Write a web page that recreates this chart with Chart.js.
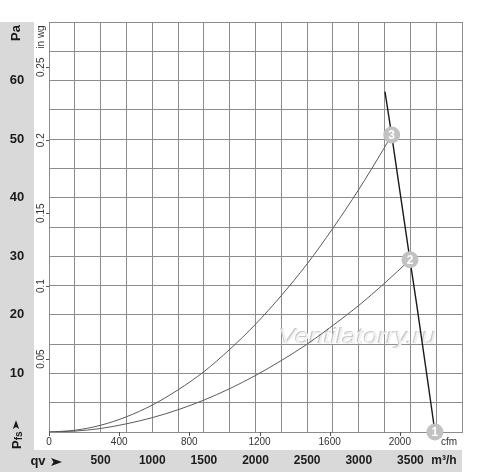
<!DOCTYPE html>
<html>
<head>
<meta charset="utf-8">
<script src="https://cdn.jsdelivr.net/npm/chart.js@4.4.1/dist/chart.umd.min.js"></script>
<style>
  html, body { margin: 0; padding: 0; background: #fff; }
  #wrap { width: 500px; height: 472px; position: relative; }
</style>
</head>
<body>
<div id="wrap"><canvas id="myChart"></canvas></div>
<script>
// Характеристики сети (расход м³/ч -> давление Па)
const flowUpper  = [0, 250, 500, 750, 1000, 1250, 1500, 1750, 2000, 2250, 2500, 2750, 3000, 3250, 3319];
const pressUpper = [0, 0.3, 1.15, 2.6, 4.6, 7.2, 10.3, 14.1, 18.4, 23.3, 28.7, 34.8, 41.4, 48.6, 50.7];
const flowLower  = [0, 250, 500, 750, 1000, 1250, 1500, 1750, 2000, 2250, 2500, 2750, 3000, 3250, 3496];
const pressLower = [0, 0.15, 0.6, 1.4, 2.45, 3.8, 5.45, 7.4, 9.65, 12.2, 15.0, 18.2, 21.6, 25.4, 29.4];

// Кривая вентилятора
const flowFan  = [3254, 3319, 3400, 3496, 3561, 3668, 3738];
const pressFan = [58.1, 50.7, 40.9, 29.4, 21.8, 8.7, 0];

// Рабочие точки
const markerFlow   = [3738, 3496, 3319];
const markerPress  = [0, 29.4, 50.7];
const markerLabels = ['1', '2', '3'];

// Подписи осей
const paTicks   = [10, 20, 30, 40, 50, 60];
const inwgTicks = ['0.05', '0.1', '0.15', '0.2', '0.25'];
const cfmTicks  = [0, 400, 800, 1200, 1600, 2000];
const m3hTicks  = [500, 1000, 1500, 2000, 2500, 3000, 3500];

const PA_PER_INWG = 249.09;
const M3H_PER_CFM = 1.699;
const FONT = '"Liberation Sans", Arial, sans-serif';
const BAND = '#d9d9d9';

function toXY(xs, ys) {
  return xs.map((x, i) => ({ x: x, y: ys[i] }));
}

// Повёрнутый текст (снизу вверх)
function rotText(ctx, text, x, y, font, color) {
  ctx.save();
  ctx.translate(x, y);
  ctx.rotate(-Math.PI / 2);
  ctx.font = font;
  ctx.fillStyle = color;
  ctx.textAlign = 'center';
  ctx.textBaseline = 'middle';
  ctx.fillText(text, 0, 0);
  ctx.restore();
}

// Стрелка ➤ (центр в x,y, направление angle, s - масштаб)
function arrow(ctx, x, y, angle, s) {
  ctx.save();
  ctx.translate(x, y);
  ctx.rotate(angle);
  ctx.scale(s, s);
  ctx.fillStyle = '#1a1a1a';
  ctx.beginPath();
  ctx.moveTo(-5, -4);
  ctx.lineTo(6, 0);
  ctx.lineTo(-5, 4);
  ctx.lineTo(-2.5, 0);
  ctx.closePath();
  ctx.fill();
  ctx.restore();
}

const framePlugin = {
  id: 'frame',
  beforeDraw(chart) {
    const { ctx, chartArea } = chart;
    ctx.save();
    ctx.fillStyle = BAND;
    // левая серая полоса и нижняя
    ctx.fillRect(0, chartArea.top, 34, chart.height - chartArea.top);
    ctx.fillRect(0, 450, chartArea.right, chart.height - 450);
    ctx.restore();
  },
  beforeDatasetsDraw(chart) {
    // водяной знак
    const { ctx, chartArea } = chart;
    const text = 'Ventilatorry.ru';
    ctx.save();
    ctx.font = 'italic 22px ' + FONT;
    const w = ctx.measureText(text).width;
    const left = chartArea.left + 229, width = 157;
    ctx.translate(left, 343);
    ctx.scale(width / w, 1);
    ctx.textBaseline = 'alphabetic';
    ctx.fillStyle = '#c9c9c9';
    ctx.fillText(text, 0, 0);
    ctx.fillStyle = '#f2f2f2';
    ctx.fillText(text, 1, 1);
    ctx.restore();
  },
  afterDraw(chart) {
    const { ctx, chartArea, scales } = chart;
    const xs = scales.x, ys = scales.y;
    ctx.save();

    // Па
    ctx.font = 'bold 13px ' + FONT;
    ctx.fillStyle = '#1a1a1a';
    ctx.textAlign = 'center';
    ctx.textBaseline = 'middle';
    paTicks.forEach(v => ctx.fillText(String(v), 17, ys.getPixelForValue(v)));
    rotText(ctx, 'Pa', 16, 33, 'bold 13px ' + FONT, '#1a1a1a');

    // in wg
    rotText(ctx, 'in wg', 41, 37, '10px ' + FONT, '#333');
    ctx.strokeStyle = '#555';
    ctx.lineWidth = 1;
    inwgTicks.forEach(t => {
      const y = ys.getPixelForValue(parseFloat(t) * PA_PER_INWG);
      rotText(ctx, t, 41, y, '10px ' + FONT, '#333');
      ctx.beginPath();
      ctx.moveTo(46, Math.round(y) + 0.5);
      ctx.lineTo(chartArea.left, Math.round(y) + 0.5);
      ctx.stroke();
    });

    // cfm
    ctx.font = '10px ' + FONT;
    ctx.fillStyle = '#333';
    cfmTicks.forEach(v => {
      const x = xs.getPixelForValue(v * M3H_PER_CFM);
      ctx.fillText(String(v), x, 442);
      ctx.beginPath();
      ctx.moveTo(Math.round(x) + 0.5, chartArea.bottom);
      ctx.lineTo(Math.round(x) + 0.5, chartArea.bottom + 4);
      ctx.stroke();
    });
    ctx.fillText('cfm', 449, 442);

    // м³/ч
    ctx.font = 'bold 12px ' + FONT;
    ctx.fillStyle = '#1a1a1a';
    m3hTicks.forEach(v => ctx.fillText(String(v), xs.getPixelForValue(v), 461));
    ctx.fillText('m³/h', 444, 461);

    // qv ➤
    ctx.font = 'bold 13px ' + FONT;
    ctx.fillText('qv', 38, 461);
    arrow(ctx, 56, 462, 0, 1);

    // Pfs ➤ (повёрнуто)
    ctx.save();
    ctx.translate(17, 449);
    ctx.rotate(-Math.PI / 2);
    ctx.textAlign = 'left';
    ctx.textBaseline = 'middle';
    ctx.font = 'bold 13px ' + FONT;
    ctx.fillText('P', 0, 0);
    const pw = ctx.measureText('P').width;
    ctx.font = 'bold 10px ' + FONT;
    ctx.fillText('fs', pw, 2);
    ctx.restore();
    arrow(ctx, 16, 425, -Math.PI / 2, 0.8);

    ctx.restore();
  },
  afterDatasetsDraw(chart) {
    // номера рабочих точек
    const { ctx } = chart;
    const meta = chart.getDatasetMeta(0);
    ctx.save();
    ctx.font = 'bold 12px ' + FONT;
    ctx.fillStyle = '#ffffff';
    ctx.textAlign = 'center';
    ctx.textBaseline = 'middle';
    meta.data.forEach((pt, i) => ctx.fillText(markerLabels[i], pt.x, pt.y + 0.5));
    ctx.restore();
  }
};

Chart.register(framePlugin);

const gridColor = '#8c8c8c';

window.myChart = new Chart(document.getElementById('myChart').getContext('2d'), {
  type: 'scatter',
  data: {
    datasets: [
      {
        label: 'points',
        data: toXY(markerFlow, markerPress),
        pointRadius: 8.5,
        pointHoverRadius: 8.5,
        pointBackgroundColor: '#c2c2c2',
        pointBorderWidth: 0,
        showLine: false,
        clip: false,
        order: 0
      },
      {
        label: 'fan',
        data: toXY(flowFan, pressFan),
        showLine: true,
        borderColor: '#1a1a1a',
        borderWidth: 1.4,
        pointRadius: 0,
        clip: false,
        order: 1
      },
      {
        label: 'system 3',
        data: toXY(flowUpper, pressUpper),
        showLine: true,
        borderColor: '#5a5a5a',
        borderWidth: 1,
        pointRadius: 0,
        cubicInterpolationMode: 'monotone',
        order: 2
      },
      {
        label: 'system 2',
        data: toXY(flowLower, pressLower),
        showLine: true,
        borderColor: '#5a5a5a',
        borderWidth: 1,
        pointRadius: 0,
        cubicInterpolationMode: 'monotone',
        order: 3
      }
    ]
  },
  options: {
    responsive: true,
    maintainAspectRatio: false,
    animation: false,
    layout: { padding: { left: 49, top: 22, right: 38, bottom: 40 } },
    plugins: { legend: { display: false }, tooltip: { enabled: false } },
    scales: {
      x: {
        type: 'linear',
        min: 0,
        max: 4000,
        ticks: { display: false, stepSize: 250 },
        grid: { color: gridColor, drawTicks: false },
        border: { color: gridColor }
      },
      y: {
        type: 'linear',
        min: 0,
        max: 70,
        ticks: { display: false, stepSize: 5 },
        grid: { color: gridColor, drawTicks: false },
        border: { color: gridColor }
      }
    }
  }
});
</script>
</body>
</html>
